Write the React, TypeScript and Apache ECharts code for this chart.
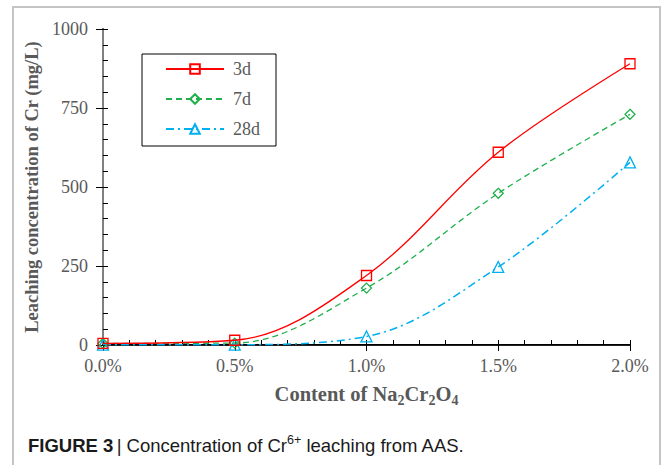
import React, { useEffect, useRef } from "react";
import * as echarts from "echarts";

const contents = [0, 0.5, 1.0, 1.5, 2.0];
const d3 = [5, 15, 220, 610, 890];
const d7 = [5, 6, 180, 480, 730];
const d28 = [1, 1, 27, 247, 578];
const seriesNames = ["3d", "7d", "28d"];

const SERIF = "Liberation Serif";
const SANS = "Liberation Sans";
const GRAY = "#595959";

export default function App() {
  const ref = useRef<HTMLDivElement>(null);
  useEffect(() => {
    const chart = echarts.init(ref.current!, null, { renderer: "svg" });
    const mk = (arr: number[]) => arr.map((v, i) => [contents[i], v]);
    const grid = { left: 103, right: 33, top: 29, bottom: 120 };
    const option: any = {
      animation: false,
      backgroundColor: "#fff",
      textStyle: { fontFamily: SERIF },
      grid,
      legend: {
        orient: "vertical",
        left: 142,
        top: 54,
        width: 136,
        padding: [6, 16, 8, 23],
        itemWidth: 58,
        itemHeight: 12,
        itemGap: 12,
        borderColor: "#000",
        borderWidth: 1,
        textStyle: { fontFamily: SERIF, fontSize: 18, color: GRAY, padding: [0, 0, 0, 4] },
        data: seriesNames,
      },
      xAxis: [
        {
          type: "value",
          min: 0,
          max: 2,
          interval: 0.5,
          position: "bottom",
          axisLine: { lineStyle: { color: "#000", width: 2 } },
          axisTick: { show: true, length: 6, lineStyle: { color: "#000" } },
          splitLine: { show: false },
          axisLabel: {
            formatter: (v: number) => v.toFixed(1) + "%",
            fontFamily: SERIF,
            fontSize: 18,
            color: GRAY,
            margin: 12,
          },
          name: "{a|Content of Na}{s|2}{a|Cr}{s|2}{a|O}{s|4}",
          nameLocation: "middle",
          nameGap: 36,
          nameTextStyle: {
            rich: {
              a: { fontFamily: SERIF, fontSize: 20.5, fontWeight: "bold", color: GRAY },
              s: { fontFamily: SERIF, fontSize: 14, fontWeight: "bold", color: GRAY, padding: [12, 0, 0, 0] },
            },
          },
        },
        {
          type: "value",
          min: 0,
          max: 2,
          interval: 0.5,
          position: "bottom",
          axisLine: { show: false },
          axisTick: { show: true, inside: true, length: 5, lineStyle: { color: "#000" } },
          minorTick: { show: true, splitNumber: 5, length: 5, lineStyle: { color: "#000" } },
          splitLine: { show: false },
          axisLabel: { show: false },
        },
        {
          type: "value",
          min: 0,
          max: 2,
          position: "top",
          axisLine: { show: true, lineStyle: { color: "#222", width: 1 } },
          axisTick: { show: false },
          splitLine: { show: false },
          axisLabel: { show: false },
        },
      ],
      yAxis: [
        {
          type: "value",
          min: 0,
          max: 1000,
          interval: 250,
          position: "left",
          axisLine: { show: true, lineStyle: { color: "#000", width: 2 } },
          axisTick: { show: true, length: 7, lineStyle: { color: "#000" } },
          splitLine: { show: false },
          axisLabel: {
            formatter: (v: number) => String(v),
            fontFamily: SERIF,
            fontSize: 18,
            color: GRAY,
            margin: 15,
          },
          name: "Leaching concentration of Cr (mg/L)",
          nameLocation: "middle",
          nameGap: 51,
          nameTextStyle: { fontFamily: SERIF, fontSize: 18.5, fontWeight: "bold", color: GRAY },
        },
        {
          type: "value",
          min: 0,
          max: 1000,
          interval: 250,
          position: "left",
          axisLine: { show: false },
          axisTick: { show: true, inside: true, length: 5, lineStyle: { color: "#000" } },
          minorTick: { show: true, splitNumber: 5, length: 5, lineStyle: { color: "#000" } },
          splitLine: { show: false },
          axisLabel: { show: false },
        },
        {
          type: "value",
          min: 0,
          max: 1000,
          position: "right",
          axisLine: { show: true, lineStyle: { color: "#808080", width: 2 } },
          axisTick: { show: false },
          splitLine: { show: false },
          axisLabel: { show: false },
        },
      ],
      graphic: [
        {
          type: "rect",
          shape: { x: 13, y: 7, width: 647, height: 470 },
          style: { fill: "none", stroke: "#c4c4c4", lineWidth: 2 },
          z: -1,
        },
        {
          type: "text",
          left: 28,
          top: 433,
          style: {
            text: "{b|FIGURE 3} {n|| Concentration of Cr}{sup|6+}{n| leaching from AAS.}",
            rich: {
              b: { fontFamily: SANS, fontSize: 18.5, fontWeight: "bold", fill: "#1a1a1a" },
              n: { fontFamily: SANS, fontSize: 18.5, fill: "#1a1a1a" },
              sup: { fontFamily: SANS, fontSize: 12.5, fill: "#1a1a1a", padding: [0, 0, 12, 0] },
            },
          },
        },
      ],
      series: [
        {
          name: "3d",
          type: "line",
          smooth: 0.35,
          data: mk(d3),
          symbol: "rect",
          symbolSize: 10,
          lineStyle: { color: "#ff0000", width: 1.3, type: "solid" },
          itemStyle: { color: "rgba(255,255,255,0)", borderColor: "#ff0000", borderWidth: 1.3 },
          z: 3,
        },
        {
          name: "7d",
          type: "line",
          smooth: 0.35,
          data: mk(d7),
          symbol: "diamond",
          symbolSize: 10,
          lineStyle: { color: "#1fb04c", width: 1.3, type: [6, 4] },
          itemStyle: { color: "rgba(255,255,255,0)", borderColor: "#1fb04c", borderWidth: 1.3 },
          z: 2,
        },
        {
          name: "28d",
          type: "line",
          smooth: 0.35,
          data: mk(d28),
          symbol: "triangle",
          symbolSize: 11,
          lineStyle: { color: "#00b0f0", width: 1.5, type: [8, 4, 2, 4] },
          itemStyle: { color: "rgba(255,255,255,0)", borderColor: "#00b0f0", borderWidth: 1.3 },
          z: 1,
        },
      ],
    };
    chart.setOption(option);
    return () => chart.dispose();
  }, []);
  return (
    <div
      ref={ref}
      style={{ position: "fixed", left: 0, top: 0, width: 663, height: 465 }}
    />
  );
}
